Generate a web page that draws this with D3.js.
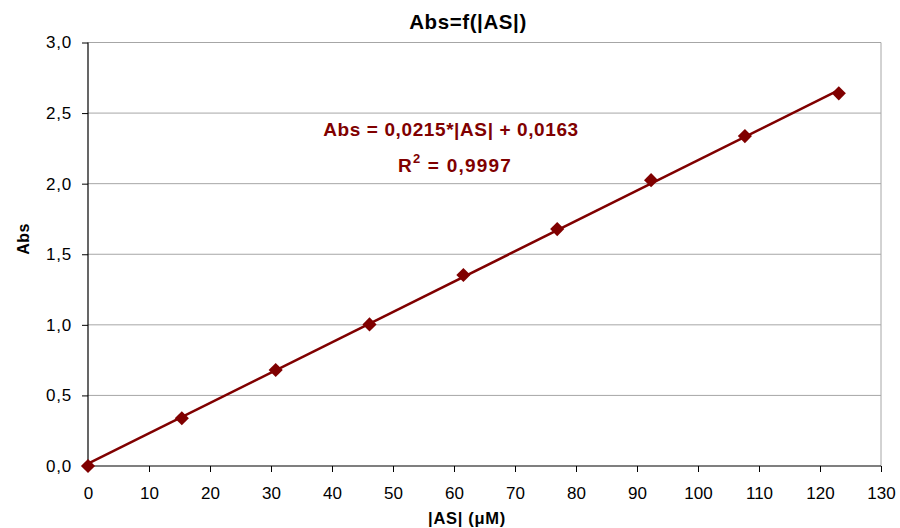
<!DOCTYPE html>
<html>
<head>
<meta charset="utf-8">
<script src="https://cdn.jsdelivr.net/npm/d3@7"></script>
<style>
  html, body { margin: 0; padding: 0; background: #fff; }
  svg { display: block; font-family: "Liberation Sans", Arial, sans-serif; }
</style>
</head>
<body>
<svg id="chart" width="900" height="528"></svg>
<script>
// Concentration of |AS| (µM) and measured absorbance
const concentrations = [0, 15.38, 30.77, 46.15, 61.54, 76.92, 92.31, 107.69, 123.08];
const absorbance = [0, 0.338, 0.68, 1.003, 1.353, 1.678, 2.025, 2.337, 2.64];

// Linear fit reported on the chart
const slope = 0.0215;
const intercept = 0.0163;
const rSquared = "0,9997";

const xTicks = [0, 10, 20, 30, 40, 50, 60, 70, 80, 90, 100, 110, 120, 130];
const yTicks = [0, 0.5, 1.0, 1.5, 2.0, 2.5, 3.0];

const svg = d3.select("#chart");
const plotLeft = 88, plotRight = 881, plotTop = 42.5, plotBottom = 466;
const darkRed = "#800000";

const x = d3.scaleLinear().domain([0, 130]).range([plotLeft, plotRight]);
const y = d3.scaleLinear().domain([0, 3]).range([plotBottom, plotTop]);
const comma = v => d3.format(".1f")(v).replace(".", ",");

// Horizontal gridlines
svg.append("g").selectAll("line").data(yTicks.filter(d => d > 0)).join("line")
  .attr("x1", plotLeft).attr("x2", plotRight)
  .attr("y1", d => y(d)).attr("y2", d => y(d))
  .attr("stroke", "#a6a6a6").attr("stroke-width", 1);

// Right border of plot area
svg.append("line")
  .attr("x1", plotRight).attr("x2", plotRight).attr("y1", plotTop).attr("y2", plotBottom)
  .attr("stroke", "#a6a6a6").attr("stroke-width", 1);

// Axes
const xAxis = d3.axisBottom(x).tickValues(xTicks).tickSize(6).tickPadding(15).tickFormat(d3.format("d"));
const yAxis = d3.axisLeft(y).tickValues(yTicks).tickSize(6).tickPadding(10).tickFormat(comma);

const gx = svg.append("g").attr("transform", `translate(0,${plotBottom})`).call(xAxis);
const gy = svg.append("g").attr("transform", `translate(${plotLeft},0)`).call(yAxis);
[gx, gy].forEach(g => {
  g.select(".domain").attr("stroke", "#000").attr("stroke-width", 1.2);
  g.selectAll(".tick line").attr("stroke", "#000");
  g.selectAll(".tick text").attr("fill", "#000")
    .style("font-size", "17px").style("font-family", "'Liberation Sans', Arial, sans-serif");
});
gy.selectAll(".tick text").style("letter-spacing", "0.8px");
gx.select(".domain").attr("d", `M${plotLeft},0H${plotRight}`);
gy.select(".domain").attr("d", `M0,${plotBottom}V${plotTop}`);

// Trend line from the fitted equation
const xMin = d3.min(concentrations), xMax = d3.max(concentrations);
const fitLine = d3.line().x(d => x(d)).y(d => y(slope * d + intercept));
svg.append("path")
  .datum([xMin, xMax])
  .attr("d", fitLine)
  .attr("fill", "none").attr("stroke", darkRed).attr("stroke-width", 2.5);

// Data markers (diamonds)
const diamond = d3.symbol().type(d3.symbolSquare).size(100);
svg.append("g").selectAll("path").data(concentrations).join("path")
  .attr("transform", (d, i) => `translate(${x(d)},${y(absorbance[i])}) rotate(45)`)
  .attr("d", diamond)
  .attr("fill", darkRed);

// Title
svg.append("text")
  .attr("x", 468).attr("y", 29)
  .attr("text-anchor", "middle")
  .style("font-size", "20.5px").style("font-weight", "bold")
  .style("letter-spacing", "0.6px")
  .text("Abs=f(|AS|)");

// Axis titles
svg.append("text")
  .attr("x", 467).attr("y", 524)
  .attr("text-anchor", "middle")
  .style("font-size", "16.5px").style("font-weight", "bold")
  .style("letter-spacing", "0.7px")
  .text("|AS| (μM)");

svg.append("text")
  .attr("transform", "translate(29,239) rotate(-90)")
  .attr("text-anchor", "middle")
  .style("font-size", "16px").style("font-weight", "bold")
  .style("letter-spacing", "0.5px")
  .text("Abs");

// Equation and R² annotation
const eq = svg.append("g").attr("fill", darkRed)
  .style("font-size", "19px").style("font-weight", "bold");
eq.append("text")
  .attr("x", 451).attr("y", 136)
  .attr("text-anchor", "middle")
  .style("letter-spacing", "0.6px")
  .text(`Abs = ${String(slope).replace(".", ",")}*|AS| + ${String(intercept).replace(".", ",")}`);
const r2 = eq.append("text")
  .attr("x", 455).attr("y", 172)
  .attr("text-anchor", "middle")
  .style("letter-spacing", "1.2px");
r2.append("tspan").text("R");
r2.append("tspan").attr("dy", -9).style("font-size", "13px").text("2");
r2.append("tspan").attr("dy", 9).text(` = ${rSquared}`);
</script>
</body>
</html>
